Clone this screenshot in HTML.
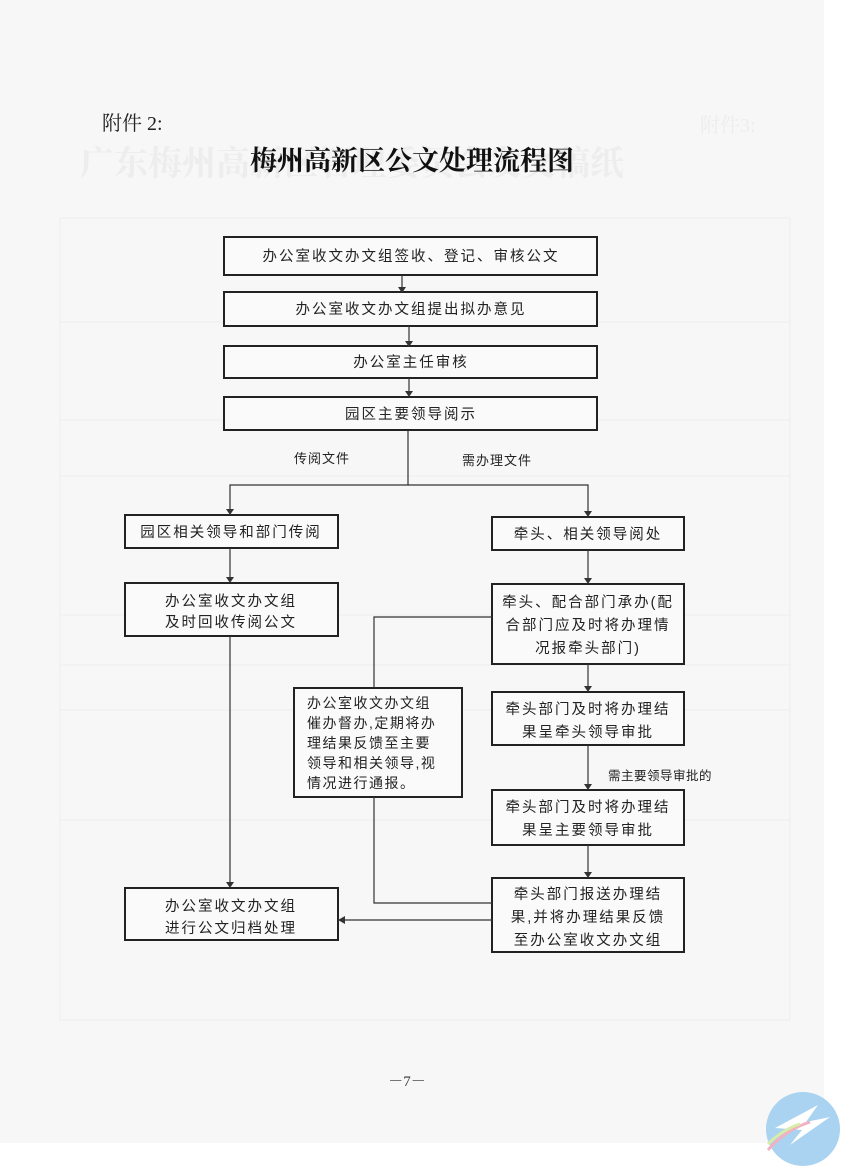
<!DOCTYPE html>
<html><head><meta charset="utf-8"><style>
html,body{margin:0;padding:0;background:#fff}
svg{display:block}
</style></head><body>
<svg width="850" height="1169" viewBox="0 0 850 1169" xmlns="http://www.w3.org/2000/svg" font-family="'Liberation Serif','Noto Serif CJK SC',serif">
<rect x="0" y="0" width="850" height="1169" fill="#fff"/>
<rect x="0" y="0" width="824" height="1143" fill="#f7f7f7"/>
<!-- faint bleed-through -->
<g fill="#ededed">
<text x="700" y="132" font-size="20">附件3:</text>
<text x="80" y="175" font-size="34" font-weight="bold">广东梅州高新区管理委员会发文稿纸</text>
</g>
<g stroke="#ededed" stroke-width="1" fill="none">
<line x1="60" y1="218" x2="790" y2="218"/>
<line x1="60" y1="322" x2="790" y2="322"/>
<line x1="60" y1="420" x2="790" y2="420"/>
<line x1="60" y1="476" x2="790" y2="476"/>
<line x1="60" y1="615" x2="790" y2="615"/>
<line x1="60" y1="665" x2="790" y2="665"/>
<line x1="60" y1="710" x2="790" y2="710"/>
<line x1="60" y1="820" x2="790" y2="820"/>
<line x1="60" y1="1020" x2="790" y2="1020"/>
<line x1="60" y1="218" x2="60" y2="1020"/>
<line x1="790" y1="218" x2="790" y2="1020"/>
</g>

<text x="102" y="130" font-size="20" fill="#222">附件 2:</text>
<text x="412" y="170" font-size="27" font-weight="bold" fill="#111" text-anchor="middle">梅州高新区公文处理流程图</text>

<g stroke="#222" stroke-width="2" fill="#fafafa">
<rect x="224" y="237" width="373" height="38"/>
<rect x="224" y="292" width="373" height="34"/>
<rect x="224" y="346" width="373" height="32"/>
<rect x="224" y="397" width="373" height="33"/>
<rect x="125" y="515" width="213" height="33"/>
<rect x="492" y="517" width="192" height="33"/>
<rect x="125" y="583" width="213" height="53"/>
<rect x="492" y="584" width="192" height="80"/>
<rect x="294" y="688" width="168" height="109"/>
<rect x="492" y="692" width="192" height="53"/>
<rect x="492" y="790" width="192" height="55"/>
<rect x="492" y="878" width="192" height="74"/>
<rect x="125" y="888" width="213" height="52"/>
</g>

<g stroke="#333" stroke-width="1.2" fill="none">
<line x1="402" y1="275" x2="402" y2="288"/>
<line x1="409" y1="326" x2="409" y2="342"/>
<line x1="409" y1="378" x2="409" y2="393"/>
<polyline points="408,430 408,485 230,485 230,511"/>
<polyline points="408,485 588,485 588,513"/>
<line x1="230" y1="548" x2="230" y2="579"/>
<line x1="588" y1="550" x2="588" y2="580"/>
<line x1="588" y1="664" x2="588" y2="688"/>
<line x1="588" y1="745" x2="588" y2="786"/>
<line x1="588" y1="845" x2="588" y2="874"/>
<line x1="230" y1="636" x2="230" y2="884"/>
<polyline points="492,617 374,617 374,688"/>
<polyline points="374,797 374,903 492,903"/>
<line x1="492" y1="920" x2="342" y2="920"/>
</g>
<g fill="#333">
<polygon points="398,287 406,287 402,293"/>
<polygon points="405,341 413,341 409,347"/>
<polygon points="405,391 413,391 409,397"/>
<polygon points="226,509 234,509 230,515"/>
<polygon points="584,511 592,511 588,517"/>
<polygon points="226,577 234,577 230,583"/>
<polygon points="584,578 592,578 588,584"/>
<polygon points="584,686 592,686 588,692"/>
<polygon points="584,784 592,784 588,790"/>
<polygon points="584,872 592,872 588,878"/>
<polygon points="226,882 234,882 230,888"/>
<polygon points="338,920 345,916 345,924"/>
</g>

<g font-family="'Liberation Sans','Noto Sans CJK SC',sans-serif" font-size="14.5" fill="#222" text-anchor="middle" letter-spacing="2">
<text x="411" y="261">办公室收文办文组签收、登记、审核公文</text>
<text x="411" y="314">办公室收文办文组提出拟办意见</text>
<text x="411" y="367">办公室主任审核</text>
<text x="411" y="419">园区主要领导阅示</text>
<text x="322" y="463" font-size="13" letter-spacing="1">传阅文件</text>
<text x="497" y="465" font-size="13" letter-spacing="1">需办理文件</text>
<text x="231" y="537">园区相关领导和部门传阅</text>
<text x="588" y="539">牵头、相关领导阅处</text>
<text x="231" y="606">办公室收文办文组</text>
<text x="231" y="627">及时回收传阅公文</text>
<text x="588" y="607">牵头、配合部门承办(配</text>
<text x="588" y="630">合部门应及时将办理情</text>
<text x="588" y="653">况报牵头部门)</text>
<text x="588" y="714">牵头部门及时将办理结</text>
<text x="588" y="737">果呈牵头领导审批</text>
<text x="660" y="780" font-size="12.5" letter-spacing="0.5">需主要领导审批的</text>
<text x="588" y="812">牵头部门及时将办理结</text>
<text x="588" y="835">果呈主要领导审批</text>
<text x="588" y="899">牵头部门报送办理结</text>
<text x="588" y="922">果,并将办理结果反馈</text>
<text x="588" y="945">至办公室收文办文组</text>
<text x="231" y="911">办公室收文办文组</text>
<text x="231" y="933">进行公文归档处理</text>
</g>
<g font-family="'Liberation Sans','Noto Sans CJK SC',sans-serif" font-size="14" fill="#222" letter-spacing="1.5">
<text x="307" y="708">办公室收文办文组</text>
<text x="307" y="728">催办督办,定期将办</text>
<text x="307" y="748">理结果反馈至主要</text>
<text x="307" y="768">领导和相关领导,视</text>
<text x="307" y="788">情况进行通报。</text>
</g>

<text x="407" y="1086" font-size="15" fill="#333" text-anchor="middle">－7－</text>

<circle cx="803" cy="1129" r="37" fill="#a9d3f0"/>
<polygon points="775,1128 818,1105 806,1122 830,1117 790,1145 802,1130" fill="#fff"/>
<path d="M768,1150 Q785,1130 810,1122" stroke="#f2b0c0" stroke-width="3" fill="none"/>
<path d="M768,1144 Q782,1130 800,1124" stroke="#d8ecaa" stroke-width="3" fill="none"/>
</svg>
</body></html>
